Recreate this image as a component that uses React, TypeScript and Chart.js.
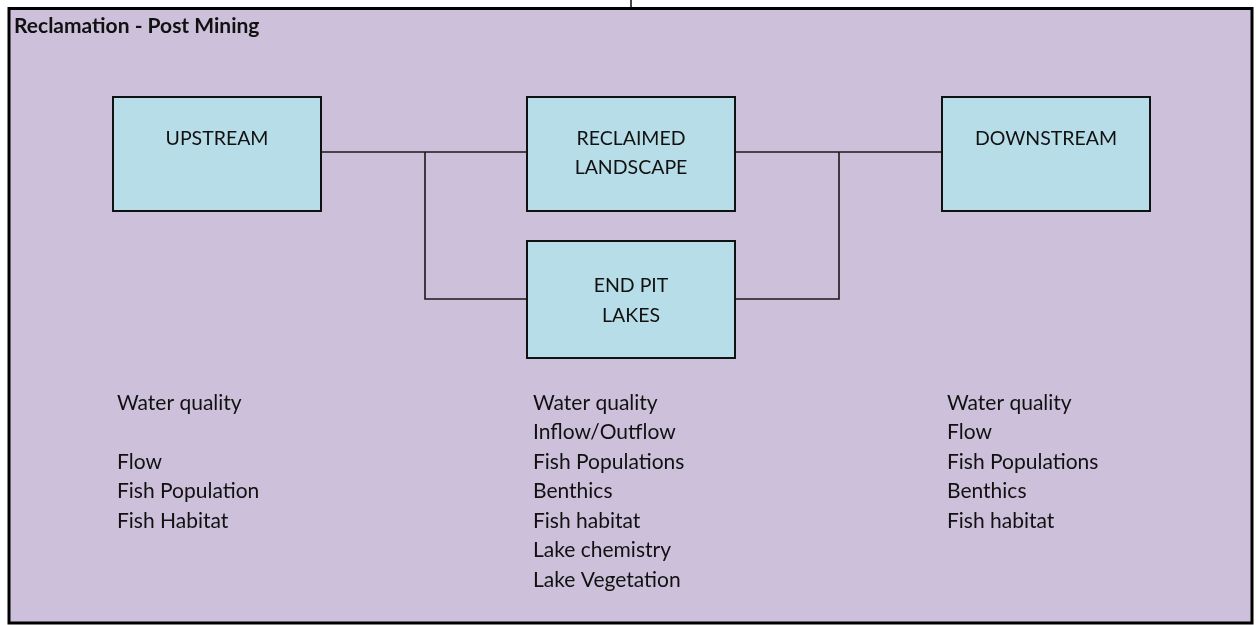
import React, { useEffect, useRef } from "react";
import { Chart, registerables } from "chart.js";

Chart.register(...registerables);

// ---- data ----
const titleText = "Reclamation - Post Mining";
const boxNames = [["UPSTREAM"], ["RECLAIMED", "LANDSCAPE"], ["DOWNSTREAM"], ["END PIT", "LAKES"]];
const boxLeft = [113, 527, 942, 527];
const boxRight = [321, 735, 1150, 735];
const boxTop = [97, 97, 97, 241];
const boxBottom = [211, 211, 211, 358];
const boxTextBaseline = [[145], [144.5, 174], [145], [292, 321.5]];

const upstreamItems = ["Water quality", "", "Flow", "Fish Population", "Fish Habitat"];
const pitLakeItems = [
  "Water quality",
  "Inflow/Outflow",
  "Fish Populations",
  "Benthics",
  "Fish habitat",
  "Lake chemistry",
  "Lake Vegetation",
];
const downstreamItems = ["Water quality", "Flow", "Fish Populations", "Benthics", "Fish habitat"];
const listColumns = [upstreamItems, pitLakeItems, downstreamItems];
const listX = [117, 533, 947];
const listFirstBaseline = 410;
const listStep = 29.45;

const connectorPaths = [
  [[321, 152], [527, 152]],
  [[425, 152], [425, 299], [527, 299]],
  [[735, 152], [942, 152]],
  [[839, 152], [839, 299], [735, 299]],
  [[631, 0], [631, 8]],
];

const frame = { left: 9, top: 8.5, right: 1252, bottom: 623 };

const PURPLE = "#CCC0DA";
const BLUE = "#B7DEE8";
const FONT = "Lato, 'Open Sans', sans-serif";

const diagramPlugin = {
  id: "diagram",
  beforeDatasetsDraw(chart: any) {
    const { ctx, scales } = chart;
    const xs = scales.x, ys = scales.y;
    ctx.save();
    ctx.fillStyle = "#ffffff";
    ctx.fillRect(0, 0, chart.width, chart.height);
    const l = xs.getPixelForValue(frame.left), r = xs.getPixelForValue(frame.right);
    const t = ys.getPixelForValue(frame.top), b = ys.getPixelForValue(frame.bottom);
    ctx.fillStyle = PURPLE;
    ctx.fillRect(l, t, r - l, b - t);
    ctx.restore();
  },
  afterDatasetsDraw(chart: any) {
    const { ctx, scales } = chart;
    const xs = scales.x, ys = scales.y;
    ctx.save();
    // boxes
    for (let i = 0; i < boxNames.length; i++) {
      const l = xs.getPixelForValue(boxLeft[i]), r = xs.getPixelForValue(boxRight[i]);
      const t = ys.getPixelForValue(boxTop[i]), b = ys.getPixelForValue(boxBottom[i]);
      ctx.fillStyle = BLUE;
      ctx.fillRect(l, t, r - l, b - t);
      ctx.strokeStyle = "#111111";
      ctx.lineWidth = 2;
      ctx.strokeRect(l, t, r - l, b - t);
      ctx.fillStyle = "#111111";
      ctx.font = `19.5px ${FONT}`;
      ctx.textAlign = "center";
      ctx.textBaseline = "alphabetic";
      boxNames[i].forEach((line, j) => {
        ctx.fillText(line, (l + r) / 2, ys.getPixelForValue(boxTextBaseline[i][j]));
      });
    }
    // lists
    ctx.textAlign = "left";
    ctx.font = `21px ${FONT}`;
    ctx.fillStyle = "#111111";
    listColumns.forEach((items, c) => {
      items.forEach((txt, k) => {
        if (!txt) return;
        ctx.fillText(txt, xs.getPixelForValue(listX[c]), ys.getPixelForValue(listFirstBaseline + k * listStep));
      });
    });
    // title
    ctx.font = `bold 21px ${FONT}`;
    ctx.fillText(titleText, xs.getPixelForValue(14), ys.getPixelForValue(33));
    // frame border
    const l = xs.getPixelForValue(frame.left), r = xs.getPixelForValue(frame.right);
    const t = ys.getPixelForValue(frame.top), b = ys.getPixelForValue(frame.bottom);
    ctx.strokeStyle = "#000000";
    ctx.lineWidth = 3;
    ctx.strokeRect(l, t, r - l, b - t);
    ctx.restore();
  },
};

export default function App() {
  const ref = useRef<HTMLCanvasElement | null>(null);
  useEffect(() => {
    document.body.style.margin = "0";
    const canvas = ref.current;
    if (!canvas) return;
    const chart = new Chart(canvas, {
      type: "scatter",
      data: {
        datasets: connectorPaths.map((path, i) => ({
          label: `connector ${i + 1}`,
          data: path.map(([x, y]) => ({ x, y })),
          showLine: true,
          borderColor: "#1a1a1a",
          borderWidth: 1.6,
          pointRadius: 0,
          fill: false,
          tension: 0,
        })),
      },
      options: {
        animation: false,
        responsive: false,
        devicePixelRatio: 1,
        layout: { padding: 0 },
        plugins: { legend: { display: false }, tooltip: { enabled: false }, title: { display: false } },
        events: [],
        scales: {
          x: { type: "linear", min: 0, max: 1258, display: false },
          y: { type: "linear", min: 0, max: 625, reverse: true, display: false },
        },
      },
      plugins: [diagramPlugin],
    });
    return () => chart.destroy();
  }, []);
  return (
    <div style={{ width: 1258, height: 625 }}>
      <canvas ref={ref} width={1258} height={625} style={{ display: "block" }} />
    </div>
  );
}
